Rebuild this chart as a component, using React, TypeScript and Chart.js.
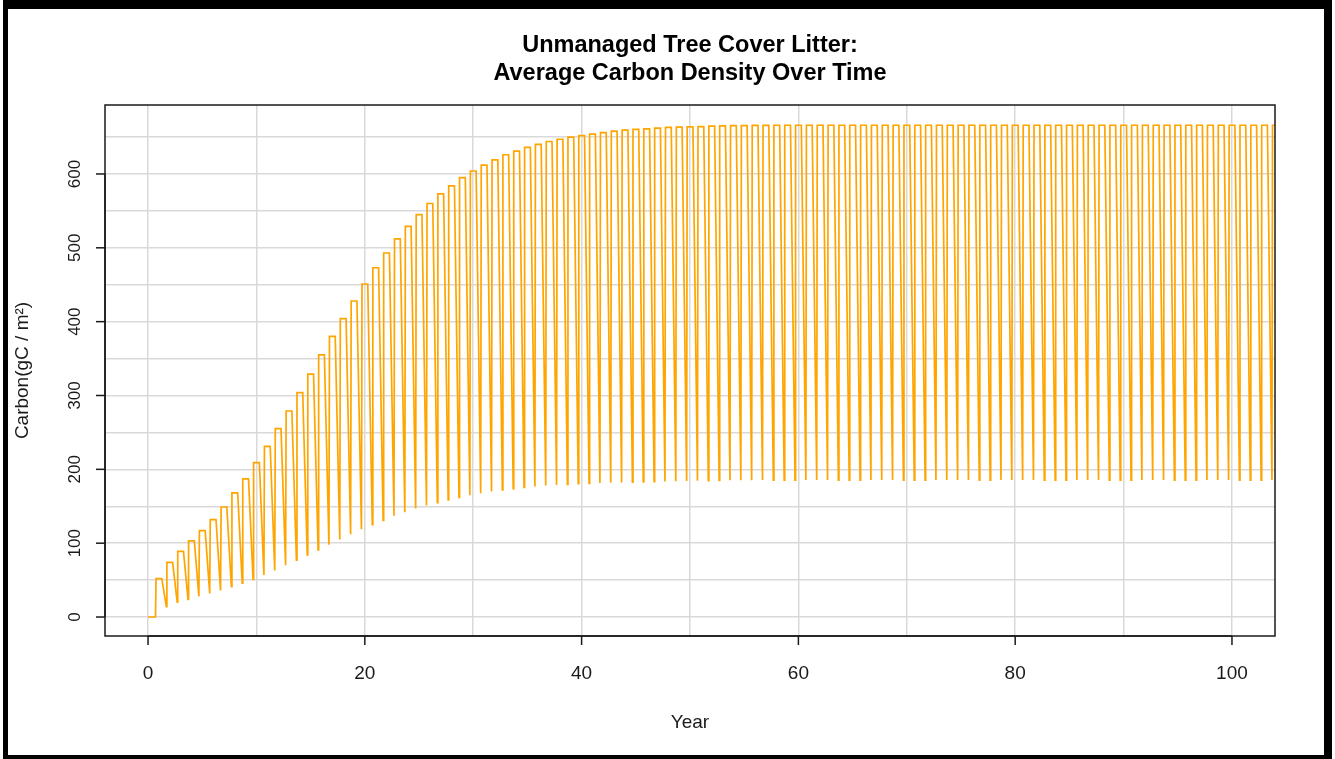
import React, { useEffect, useRef } from "react";
import { Chart, registerables } from "chart.js";

Chart.register(...registerables);

// ---- data ----
const titleLines = ["Unmanaged Tree Cover Litter:", "Average Carbon Density Over Time"];
const xTitle = "Year";
const yTitle = "Carbon(gC / m²)";

const xTickValues = [0, 20, 40, 60, 80, 100];
const yTickValues = [0, 100, 200, 300, 400, 500, 600];
const xGridValues = [0, 10, 20, 30, 40, 50, 60, 70, 80, 90, 100];
const yGridValues = [0, 50, 100, 150, 200, 250, 300, 350, 400, 450, 500, 550, 600, 650];

// peak carbon right after each annual litter input (input at year k + 0.74)
const peaks = [
  52, 74, 89, 103, 117, 132, 149, 168, 187, 209,
  231, 255, 279, 304, 329, 355, 380, 404, 428, 451,
  473, 493, 512, 529, 545, 560, 573, 584, 595, 604,
  612, 619, 626, 631, 636, 640, 644, 647, 650, 652,
  654, 656, 658, 659.4, 660.3, 661, 662, 663, 663.4, 663.8,
  664.2, 664.7, 665, 665.5, 665.6, 665.8, 665.9, 666, 666, 666,
  666, 666, 666, 666, 666, 666, 666, 666, 666, 666,
  666, 666, 666, 666, 666, 666, 666, 666, 666, 666,
  666, 666, 666, 666, 666, 666, 666, 666, 666, 666,
  666, 666, 666, 666, 666, 666, 666, 666, 666, 666,
  666, 666, 666, 666,
];

// minimum carbon reached just before the next input (year k + 1.69)
const troughs = [
  14, 20, 24, 28, 32, 36, 41, 46, 51, 57,
  63, 70, 77, 84, 91, 98, 105, 112, 119, 125,
  131, 137, 142, 147, 151, 155, 158.5, 162, 165, 167.5,
  170, 172, 174, 175.5, 176.8, 178, 178.8, 179.7, 180.5, 181,
  181.5, 182, 182.3, 182.6, 183, 183.3, 183.6, 183.9, 184.2, 184.5,
  184.7, 184.9, 185.1, 185.2, 185.3, 185.4, 185.5, 185.5, 185.5, 185.5,
  185.5, 185.5, 185.5, 185.5, 185.5, 185.5, 185.5, 185.5, 185.5, 185.5,
  185.5, 185.5, 185.5, 185.5, 185.5, 185.5, 185.5, 185.5, 185.5, 185.5,
  185.5, 185.5, 185.5, 185.5, 185.5, 185.5, 185.5, 185.5, 185.5, 185.5,
  185.5, 185.5, 185.5, 185.5, 185.5, 185.5, 185.5, 185.5, 185.5, 185.5,
  185.5, 185.5, 185.5, 185.5,
];

// timing within each yearly cycle (fractions of a year)
const inputTime = 0.74;
const plateauEnd = 1.27;
const troughTime = 1.69;
const startValue = 0;

function buildSeries() {
  const pts: { x: number; y: number }[] = [
    { x: 0, y: startValue },
    { x: troughTime - 1, y: startValue },
  ];
  for (let k = 0; k < peaks.length; k++) {
    pts.push({ x: k + inputTime, y: peaks[k] });
    pts.push({ x: k + plateauEnd, y: peaks[k] });
    if (k < troughs.length) pts.push({ x: k + troughTime, y: troughs[k] });
  }
  return pts;
}

const FONT = '"Liberation Sans", Arial, sans-serif';

const framePlugin = {
  id: "frame",
  beforeDraw(chart: any) {
    const ctx = chart.ctx;
    ctx.save();
    ctx.fillStyle = "#ffffff";
    ctx.fillRect(0, 0, chart.width, chart.height);
    ctx.fillStyle = "#000000";
    ctx.fillRect(3, 0, 1329, 759);
    ctx.fillStyle = "#ffffff";
    ctx.fillRect(8, 9, 1316, 746);
    ctx.restore();
  },
  afterDraw(chart: any) {
    const ctx = chart.ctx;
    const a = chart.chartArea;
    const xs = chart.scales.x;
    const ys = chart.scales.y;
    ctx.save();
    ctx.strokeStyle = "#1a1a1a";
    ctx.lineWidth = 1.5;
    ctx.strokeRect(a.left, a.top, a.right - a.left, a.bottom - a.top);

    // x axis
    const x0 = xs.getPixelForValue(xTickValues[0]);
    const x1 = xs.getPixelForValue(xTickValues[xTickValues.length - 1]);
    ctx.beginPath();
    ctx.moveTo(x0, a.bottom);
    ctx.lineTo(x1, a.bottom);
    ctx.stroke();
    ctx.fillStyle = "#1a1a1a";
    ctx.font = `19px ${FONT}`;
    ctx.textAlign = "center";
    ctx.textBaseline = "alphabetic";
    for (const v of xTickValues) {
      const px = xs.getPixelForValue(v);
      ctx.beginPath();
      ctx.moveTo(px, a.bottom);
      ctx.lineTo(px, a.bottom + 9);
      ctx.stroke();
      ctx.fillText(String(v), px, a.bottom + 43);
    }

    // y axis
    const y0 = ys.getPixelForValue(yTickValues[0]);
    const y1 = ys.getPixelForValue(yTickValues[yTickValues.length - 1]);
    ctx.beginPath();
    ctx.moveTo(a.left, y0);
    ctx.lineTo(a.left, y1);
    ctx.stroke();
    ctx.font = `17px ${FONT}`;
    for (const v of yTickValues) {
      const py = ys.getPixelForValue(v);
      ctx.beginPath();
      ctx.moveTo(a.left, py);
      ctx.lineTo(a.left - 9, py);
      ctx.stroke();
      ctx.save();
      ctx.translate(a.left - 25, py);
      ctx.rotate(-Math.PI / 2);
      ctx.fillText(String(v), 0, 0);
      ctx.restore();
    }

    // axis titles
    const cx = (a.left + a.right) / 2;
    const cy = (a.top + a.bottom) / 2;
    ctx.font = `19px ${FONT}`;
    ctx.fillText(xTitle, cx, 728);
    ctx.save();
    ctx.translate(28, cy);
    ctx.rotate(-Math.PI / 2);
    ctx.fillText(yTitle, 0, 0);
    ctx.restore();

    // title
    ctx.fillStyle = "#000000";
    ctx.font = `bold 23.5px ${FONT}`;
    ctx.fillText(titleLines[0], cx, 52);
    ctx.fillText(titleLines[1], cx, 80);
    ctx.restore();
  },
};

export default function App() {
  const ref = useRef<HTMLCanvasElement | null>(null);
  useEffect(() => {
    if (!ref.current) return;
    const chart = new Chart(ref.current, {
      type: "line",
      data: {
        datasets: [
          {
            data: buildSeries(),
            borderColor: "#FFA500",
            borderWidth: 1.7,
            pointRadius: 0,
            tension: 0,
            fill: false,
            clip: 0,
          } as any,
        ],
      },
      options: {
        responsive: false,
        animation: false,
        devicePixelRatio: 1,
        layout: { padding: { left: 105, right: 60, top: 105, bottom: 123 } },
        plugins: { legend: { display: false }, tooltip: { enabled: false }, title: { display: false } },
        scales: {
          x: {
            type: "linear",
            min: -3.97,
            max: 103.97,
            ticks: { display: false },
            border: { display: false },
            grid: { color: "#d9d9d9", lineWidth: 1.5, drawTicks: false },
            afterBuildTicks: (s: any) => {
              s.ticks = xGridValues.map((v) => ({ value: v }));
            },
            afterFit: (s: any) => {
              s.height = 0;
            },
          },
          y: {
            type: "linear",
            min: -25.7,
            max: 693.4,
            ticks: { display: false },
            border: { display: false },
            grid: { color: "#d9d9d9", lineWidth: 1.5, drawTicks: false },
            afterBuildTicks: (s: any) => {
              s.ticks = yGridValues.map((v) => ({ value: v }));
            },
            afterFit: (s: any) => {
              s.width = 0;
            },
          },
        },
      } as any,
      plugins: [framePlugin],
    });
    return () => chart.destroy();
  }, []);
  return (
    <div style={{ position: "absolute", left: 0, top: 0, width: 1335, height: 759 }}>
      <canvas ref={ref} width={1335} height={759} style={{ display: "block" }} />
    </div>
  );
}
